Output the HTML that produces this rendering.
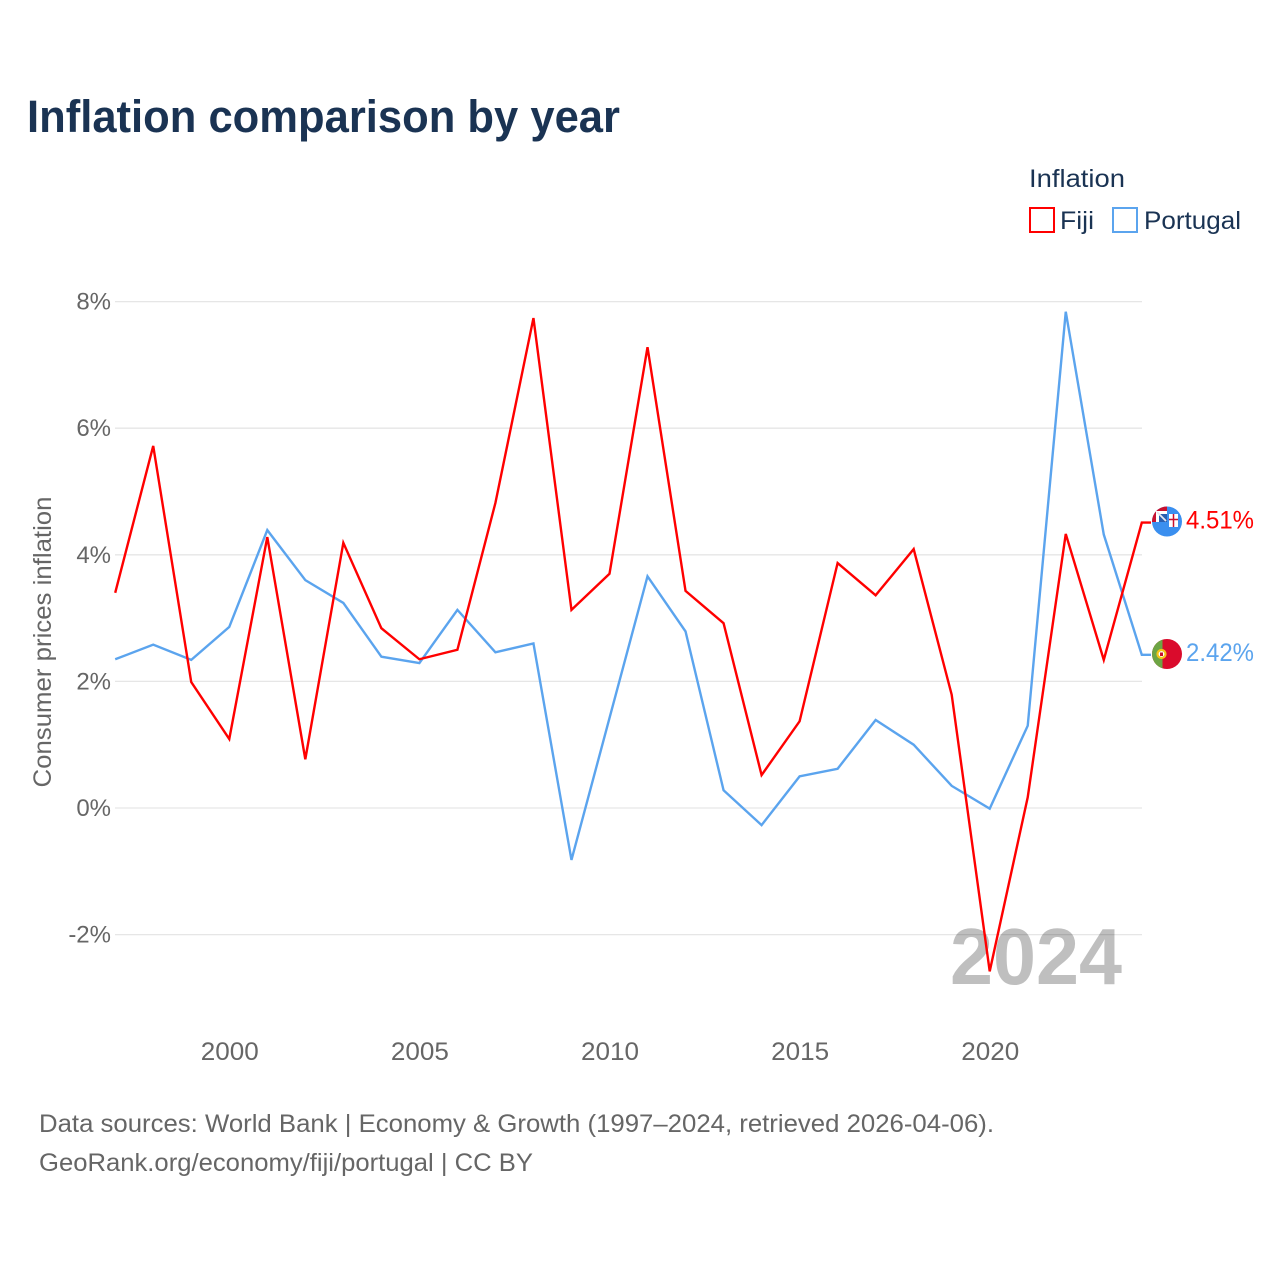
<!DOCTYPE html>
<html lang="en">
<head>
<meta charset="utf-8">
<title>Inflation comparison by year</title>
<style>
html,body{margin:0;padding:0;background:#fff;}
svg{display:block;font-family:"Liberation Sans",sans-serif;}
</style>
</head>
<body>
<svg id="chart" width="1280" height="1280" viewBox="0 0 1280 1280" xmlns="http://www.w3.org/2000/svg">
  <rect width="1280" height="1280" fill="#fff"/>
  <text x="27" y="132" font-size="45" font-weight="700" fill="#1a3353" textLength="593" lengthAdjust="spacingAndGlyphs">Inflation comparison by year</text>

  <g id="grid"></g>
  <g id="yticks"></g>
  <g id="xticks"></g>
  <text transform="translate(51,642) rotate(-90)" text-anchor="middle" font-size="25" fill="#666" textLength="291" lengthAdjust="spacingAndGlyphs">Consumer prices inflation</text>

  <text x="1122" y="984" text-anchor="end" font-size="80" font-weight="700" fill="#000" fill-opacity="0.25" textLength="172" lengthAdjust="spacingAndGlyphs">2024</text>

  <g id="series"></g>

  <g>
    <clipPath id="fiji-clip"><circle cx="1167" cy="521.5" r="15"/></clipPath>
    <g clip-path="url(#fiji-clip)">
      <rect x="1152" y="506" width="30" height="31" fill="#3a8fef"/>
      <rect x="1152" y="506" width="15" height="16" fill="#c8102e"/>
      <rect x="1156" y="511" width="11" height="11" fill="#fff"/>
      <rect x="1159" y="514" width="8" height="8" fill="#2a5fb0"/>
      <path d="M1157 512 L1166 521" stroke="#e8e8f0" stroke-width="1.8"/>
      <rect x="1169" y="514" width="9" height="13" fill="#fff"/>
      <path d="M1173.5 514V527M1169 519.5H1178" stroke="#c8102e" stroke-width="1.5"/>
    </g>
  </g>
  <g>
    <clipPath id="pt-clip"><circle cx="1167" cy="654" r="15"/></clipPath>
    <g clip-path="url(#pt-clip)">
      <rect x="1152" y="639" width="30" height="30" fill="#da0b2c"/>
      <rect x="1152" y="639" width="10.5" height="30" fill="#6da544"/>
      <circle cx="1161.5" cy="654" r="4" fill="#fff" stroke="#f5c518" stroke-width="2.2"/>
      <rect x="1160" y="652.5" width="3" height="3.5" fill="#c8102e"/>
    </g>
  </g>

  <g id="endlabels"></g>

  <text x="1029" y="187" font-size="25" fill="#1a3353" textLength="96" lengthAdjust="spacingAndGlyphs">Inflation</text>
  <g>
    <rect x="1030" y="208" width="24" height="24" fill="#fff" stroke="#ff0000" stroke-width="2"/>
    <text x="1060" y="229" font-size="25" fill="#1a3353" textLength="34" lengthAdjust="spacingAndGlyphs">Fiji</text>
  </g>
  <g>
    <rect x="1113" y="208" width="24" height="24" fill="#fff" stroke="#5ba4ee" stroke-width="2"/>
    <text x="1144" y="229" font-size="25" fill="#1a3353" textLength="97" lengthAdjust="spacingAndGlyphs">Portugal</text>
  </g>

  <text x="39" y="1132" font-size="25" fill="#666" textLength="955" lengthAdjust="spacingAndGlyphs">Data sources: World Bank | Economy &amp; Growth (1997–2024, retrieved 2026-04-06).</text>
  <text x="39" y="1171" font-size="25" fill="#666" textLength="494" lengthAdjust="spacingAndGlyphs">GeoRank.org/economy/fiji/portugal | CC BY</text>
</svg>
<script>
const years = [1997,1998,1999,2000,2001,2002,2003,2004,2005,2006,2007,2008,2009,2010,2011,2012,2013,2014,2015,2016,2017,2018,2019,2020,2021,2022,2023,2024];
const fijiValues = [3.40,5.72,1.99,1.09,4.28,0.77,4.19,2.84,2.35,2.50,4.82,7.74,3.13,3.70,7.28,3.43,2.92,0.52,1.37,3.87,3.36,4.09,1.79,-2.58,0.17,4.33,2.34,4.51];
const portugalValues = [2.35,2.58,2.34,2.86,4.39,3.60,3.24,2.39,2.29,3.13,2.46,2.60,-0.82,1.42,3.66,2.79,0.28,-0.27,0.50,0.62,1.39,1.00,0.35,-0.01,1.30,7.84,4.32,2.42];
const yTicks = [-2,0,2,4,6,8];
const xTicks = [2000,2005,2010,2015,2020];
const seriesNames = ['fiji','portugal'];

const NS = 'http://www.w3.org/2000/svg';
function xScale(year){ return 115.2 + (year - 1997) * (1141.8 - 115.2) / 27; }
function yScale(v){ return 808 - v * 63.3; }
function make(tag, parent, attrs, text){
  const el = document.createElementNS(NS, tag);
  for (const k in attrs) el.setAttribute(k, attrs[k]);
  if (text !== undefined) el.textContent = text;
  parent.appendChild(el);
  return el;
}
const gridG = document.getElementById('grid');
const yG = document.getElementById('yticks');
const xG = document.getElementById('xticks');
const seriesG = document.getElementById('series');
const endG = document.getElementById('endlabels');

yTicks.forEach(function(t){
  const line = make('line', gridG, {x1:115, x2:1142, y1:yScale(t), y2:yScale(t), stroke:'#e6e6e6', 'stroke-width':1.3});
  
  
  const label = make('text', yG, {x:111, y:yScale(t)+8, 'text-anchor':'end', 'font-size':24, fill:'#666'}, t + '%');
  
  
});
xTicks.forEach(function(t){
  const label = make('text', xG, {x:xScale(t)+0.5, y:1060, 'text-anchor':'middle', 'font-size':25, fill:'#666', textLength:58, lengthAdjust:'spacingAndGlyphs'}, String(t));
  
  
});

function drawSeries(values, color, name){
  const pts = values.map(function(v,i){ return xScale(years[i]).toFixed(2) + ',' + yScale(v).toFixed(2); });
  const last = values[values.length-1];
  pts.push('1151,' + yScale(last).toFixed(2));
  const line = make('polyline', seriesG, {points:pts.join(' '), fill:'none', stroke:color, 'stroke-width':2.4, 'stroke-linejoin':'miter'});
  
  
  const label = make('text', endG, {x:1186, y:yScale(last)+6, 'font-size':25, fill:color, textLength:68, lengthAdjust:'spacingAndGlyphs'}, last.toFixed(2) + '%');
  
  
}
drawSeries(portugalValues, '#5ba4ee', seriesNames[1]);
drawSeries(fijiValues, '#ff0000', seriesNames[0]);
</script>
</body>
</html>
